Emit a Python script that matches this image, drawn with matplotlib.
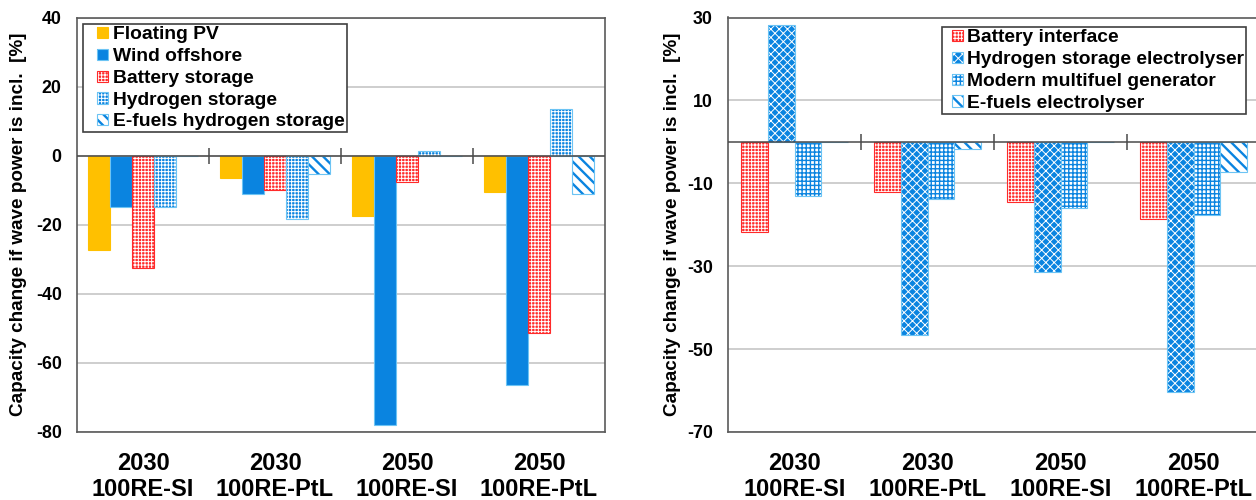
import matplotlib
matplotlib.use("Agg")
import matplotlib.pyplot as plt
import numpy as np
from matplotlib.patches import Rectangle
from matplotlib.legend_handler import HandlerBase

plt.rcParams["font.family"] = ["Liberation Sans", "DejaVu Sans"]
plt.rcParams["font.weight"] = "bold"
plt.rcParams["axes.labelweight"] = "bold"
plt.rcParams["hatch.linewidth"] = 0.8

# ---- data -------------------------------------------------------------
categories = ["2030\n100RE-SI", "2030\n100RE-PtL", "2050\n100RE-SI", "2050\n100RE-PtL"]

# left panel: generation and storage capacity change [%]
floating_pv = [-27.4, -6.6, -17.6, -10.6]
wind_offshore = [-15.0, -11.0, -78.1, -66.5]
battery_storage = [-32.4, -9.9, -7.6, -51.3]
hydrogen_storage = [-15.0, -18.2, 1.4, 13.5]
efuels_hydrogen_storage = [0.0, -5.4, 0.0, -11.1]

# right panel: conversion capacity change [%]
battery_interface = [-21.8, -12.1, -14.4, -18.5]
hydrogen_electrolyser = [28.2, -46.5, -31.3, -60.4]
multifuel_generator = [-13.1, -13.7, -15.9, -17.6]
efuels_electrolyser = [0.0, -1.8, 0.0, -7.2]

left_labels = ["Floating PV", "Wind offshore", "Battery storage",
               "Hydrogen storage", "E-fuels hydrogen storage"]
right_labels = ["Battery interface", "Hydrogen storage electrolyser",
                "Modern multifuel generator", "E-fuels electrolyser"]

left_ticks = [40, 20, 0, -20, -40, -60, -80]
right_ticks = [30, 10, -10, -30, -50, -70]

y_title = "Capacity change if wave power is incl.  [%]"

# ---- styles -----------------------------------------------------------
YELLOW = "#FFC000"
BLUE = "#0A84E0"
RED = "#FF2A2A"
LIGHT = "#6CC4F4"
DARK = "#4A4A4A"

# face, hatch colour, hatch, hatch linewidth, outline colour
left_styles = [
    (YELLOW, YELLOW, None, 0.8, YELLOW),
    (BLUE, BLUE, None, 0.8, LIGHT),
    (RED, "white", "+++++", 0.7, RED),
    (BLUE, "white", "+++++", 0.7, LIGHT),
    ("white", BLUE, "\\\\\\", 1.7, LIGHT),
]
right_styles = [
    (RED, "white", "+++++", 0.7, RED),
    (BLUE, "white", "xxxx", 0.7, LIGHT),
    ("white", BLUE, "++++", 1.0, LIGHT),
    ("white", BLUE, "\\\\\\", 1.7, LIGHT),
]


def hatch_lw(patch, lw):
    if hasattr(patch, "set_hatch_linewidth"):
        patch.set_hatch_linewidth(lw)


class SquareHandler(HandlerBase):
    def __init__(self, size=0.58):
        super().__init__()
        self.size = size

    def create_artists(self, legend, orig, xdescent, ydescent, width, height,
                       fontsize, trans):
        s = self.size * fontsize
        x0 = -xdescent + width - s
        y0 = -ydescent + (height - s) / 2
        face, hcol, hatch, hlw, outline = orig.style
        fill = Rectangle((x0, y0), s, s, facecolor=face, edgecolor=hcol,
                         hatch=hatch, lw=0, transform=trans)
        hatch_lw(fill, hlw)
        edge = Rectangle((x0, y0), s, s, fill=False, edgecolor=outline,
                         lw=0.8, transform=trans)
        return [fill, edge]


def draw_panel(ax, series, styles, labels, ticks, ylim, nslots):
    x = np.arange(len(categories))
    width = 1.0 / (nslots + 1)
    n = len(series)
    handles = []
    for k, (vals, st, lab) in enumerate(zip(series, styles, labels)):
        face, hcol, hatch, hlw, outline = st
        pos = x + (k - (n - 1) / 2) * width
        bars = ax.bar(pos, vals, width, facecolor=face, edgecolor=hcol,
                      hatch=hatch, lw=0, zorder=2)
        for b in bars:
            hatch_lw(b, hlw)
        ax.bar(pos, vals, width, fill=False, edgecolor=outline, lw=0.8, zorder=2)
        proxy = Rectangle((0, 0), 1, 1, label=lab)
        proxy.style = st
        handles.append(proxy)

    ax.set_xlim(-0.5, len(categories) - 0.5)
    ax.set_ylim(*ylim)
    ax.set_yticks(ticks)
    ax.set_yticklabels([str(t) for t in ticks])
    ax.yaxis.grid(True, color="#C6C6C6", lw=1.2)
    ax.set_axisbelow(True)
    ax.axhline(0, color=DARK, lw=1.1, zorder=3)
    ax.plot(x[:-1] + 0.5, np.zeros(len(x) - 1), ls="none", marker="|",
            ms=11, mew=1.1, color=DARK, zorder=3)

    ax.set_xticks(x)
    ax.set_xticklabels(categories, fontsize=17, linespacing=1.15)
    ax.tick_params(axis="x", length=0, pad=14.5)
    ax.tick_params(axis="y", length=0, pad=11, labelsize=12.8)
    for sp in ax.spines.values():
        sp.set_color("#5A5A5A")
        sp.set_linewidth(1.2)
    ax.set_ylabel(y_title, fontsize=13.6, fontweight="bold")
    return handles


fig = plt.figure(figsize=(12.56, 5.0), dpi=100)
W, H = 1256.0, 500.0
ax1 = fig.add_axes([77 / W, 68 / H, 528 / W, 414.5 / H])
ax2 = fig.add_axes([728 / W, 68 / H, 532 / W, 414.5 / H])

h1 = draw_panel(ax1, [floating_pv, wind_offshore, battery_storage,
                      hydrogen_storage, efuels_hydrogen_storage],
                left_styles, left_labels, left_ticks, (-80, 40), 5)
h2 = draw_panel(ax2, [battery_interface, hydrogen_electrolyser,
                      multifuel_generator, efuels_electrolyser],
                right_styles, right_labels, right_ticks, (-70, 30), 4)

ax1.yaxis.set_label_coords(-0.095, 0.5)
ax2.yaxis.set_label_coords(-0.089, 0.5)

leg_kw = dict(loc="upper left", bbox_transform=fig.transFigure, borderaxespad=0,
              borderpad=0.1, labelspacing=0.22, fontsize=13.9, fancybox=False,
              framealpha=1, edgecolor="#404040")
l1 = ax1.legend(handles=h1, bbox_to_anchor=(83 / W, 1 - 24 / H),
                handlelength=1.2, handletextpad=0.26,
                handler_map={Rectangle: SquareHandler()}, **leg_kw)
l2 = ax2.legend(handles=h2, bbox_to_anchor=(942 / W, 1 - 27 / H),
                handlelength=1.0, handletextpad=0.2,
                handler_map={Rectangle: SquareHandler()}, **leg_kw)
for lg in (l1, l2):
    lg.get_frame().set_linewidth(1.2)
    lg.set_zorder(5)

fig.savefig("out.png", dpi=100)
